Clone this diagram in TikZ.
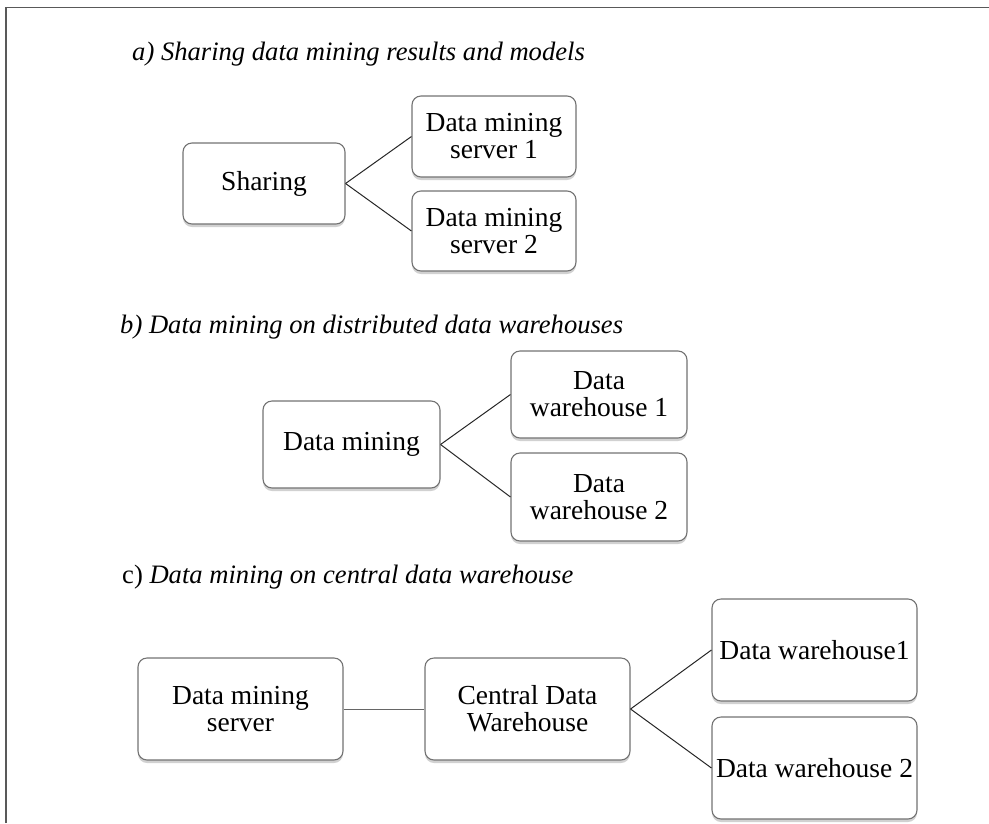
\documentclass[tikz,border=0pt]{standalone}
\usepackage{fontspec}
\setmainfont{Liberation Serif}
\usetikzlibrary{shadows}
\begin{document}
\begin{tikzpicture}[x=1pt,y=-1pt,
  box/.style={draw=black!55, line width=1.1pt, rounded corners=9pt, fill=white,
    align=center, inner sep=0pt, font=\fontsize{27.5}{27}\selectfont,
    drop shadow={shadow xshift=0pt, shadow yshift=-3pt, opacity=0.3, fill=black!60}},
  link/.style={draw=black!85, line width=1pt},
  ttl/.style={anchor=base west, inner sep=0pt, font=\fontsize{26.6}{27}\selectfont}]
\useasboundingbox (0,0) rectangle (989,823);
\draw[black!65, line width=1.6pt] (6,823) -- (6,7.5) -- (989,7.5);

% a)
\node[ttl] (ta) at (132,60) {\itshape a) Sharing data mining results and models};
\node[box, minimum width=162pt, minimum height=81pt] (share) at (264,183.5) {Sharing};
\node[box, minimum width=164pt, minimum height=81pt] (dms1) at (494,136.5) {Data mining\\server 1};
\node[box, minimum width=164pt, minimum height=80pt] (dms2) at (494,231) {Data mining\\server 2};
\draw[link] (share.east) -- (dms1.west);
\draw[link] (share.east) -- (dms2.west);

% b)
\node[ttl] (tb) at (120,333) {\itshape b) Data mining on distributed data warehouses};
\node[box, minimum width=177pt, minimum height=87pt] (dm) at (351.5,444.5) {Data mining};
\node[box, minimum width=176pt, minimum height=87pt] (dwb1) at (599,394.5) {Data\\warehouse 1};
\node[box, minimum width=176pt, minimum height=88pt] (dwb2) at (599,497) {Data\\warehouse 2};
\draw[link] (dm.east) -- (dwb1.west);
\draw[link] (dm.east) -- (dwb2.west);

% c)
\node[ttl] (tc) at (122,583) {c) \itshape Data mining on central data warehouse};
\node[box, minimum width=205pt, minimum height=102pt] (dmsrv) at (240.5,709) {Data mining\\server};
\node[box, minimum width=205pt, minimum height=102pt] (cdw) at (527.5,709) {Central Data\\Warehouse};
\node[box, minimum width=205pt, minimum height=102pt] (dwc1) at (814.5,650) {Data warehouse1};
\node[box, minimum width=205pt, minimum height=102pt] (dwc2) at (814.5,768) {Data warehouse 2};
\draw[link, draw=black!60] (dmsrv.east) -- (cdw.west);
\draw[link] (cdw.east) -- (dwc1.west);
\draw[link] (cdw.east) -- (dwc2.west);
\end{tikzpicture}
\end{document}
